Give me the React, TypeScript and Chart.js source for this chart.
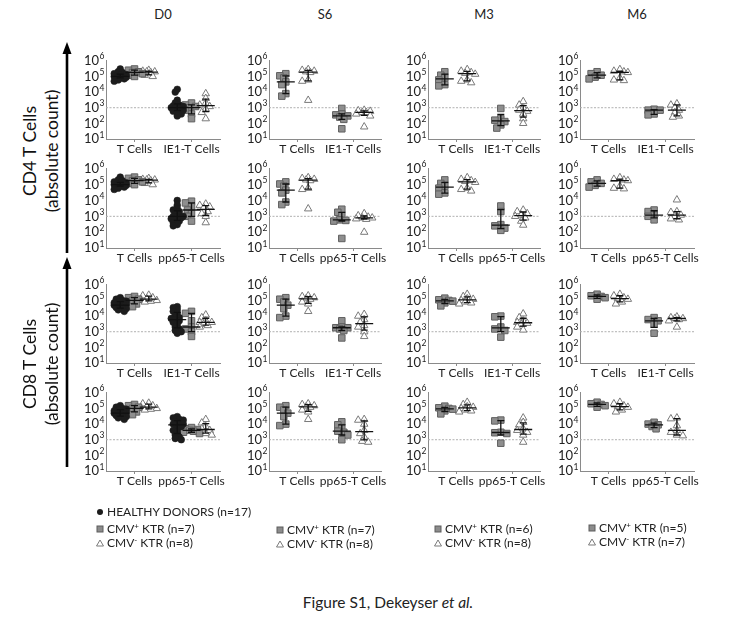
import React, { useEffect, useRef } from 'react';
import { Chart, registerables } from 'chart.js';
Chart.register(...registerables);

const FONT = 'Lato, "Open Sans", sans-serif';

// ---------- labels ----------
const timepoints = ['D0', 'S6', 'M3', 'M6'];
const rowCategories = [
  ['T Cells', 'IE1-T Cells'],
  ['T Cells', 'pp65-T Cells'],
  ['T Cells', 'IE1-T Cells'],
  ['T Cells', 'pp65-T Cells'],
];
const yTickValues = [1e1, 1e2, 1e3, 1e4, 1e5, 1e6];
const yTickBase = '10';
const yTickExponents = ['1', '2', '3', '4', '5', '6'];
const threshold = 1e3;
const nPos = [7, 7, 6, 5];
const nNeg = [8, 8, 8, 7];
const nHealthy = 17;

// ---------- healthy donors (D0 only) ----------
const hdCD4T = [3e5, 2e5, 1.8e5, 1.5e5, 1.3e5, 1.2e5, 1.1e5, 1e5, 1e5, 1e5, 9e4, 9e4, 8e4, 8e4, 7e4, 6e4, 5e4];
const hdCD4IE1 = [1.5e4, 1e4, 3e3, 2e3, 1.5e3, 1.3e3, 1.2e3, 1e3, 1e3, 1e3, 9e2, 8e2, 7e2, 6e2, 5e2, 4e2, 3e2];
const hdCD4pp65 = [1e4, 5e3, 3e3, 2.5e3, 2e3, 1.5e3, 1.2e3, 1e3, 1e3, 9e2, 8e2, 7e2, 6e2, 5e2, 4e2, 3e2, 2.5e2];
const hdCD8T = [1.5e5, 1.2e5, 1e5, 9e4, 8e4, 7e4, 6e4, 5.5e4, 5e4, 5e4, 4.5e4, 4e4, 3.5e4, 3e4, 3e4, 2.5e4, 2e4];
const hdCD8IE1 = [4e4, 3.5e4, 2.5e4, 2e4, 1.5e4, 1e4, 8e3, 7e3, 6e3, 5e3, 4e3, 3e3, 2e3, 1.5e3, 1.2e3, 1e3, 8e2];
const hdCD8pp65 = [3e4, 2.5e4, 2e4, 1.8e4, 1.5e4, 1.2e4, 1e4, 1e4, 9e3, 7e3, 5e3, 4e3, 3e3, 2e3, 1.5e3, 1.2e3, 1e3];

// ---------- D0 ----------
const d0PosCD4T = [3e5, 2.5e5, 2e5, 1.8e5, 1.5e5, 1.2e5, 1e5];
const d0NegCD4T = [2.5e5, 2.2e5, 2e5, 2e5, 1.8e5, 1.5e5, 1.2e5, 1e5];
const d0PosCD4IE1 = [2e3, 1.5e3, 1.2e3, 1e3, 7e2, 4e2, 2e2];
const d0NegCD4IE1 = [8e3, 4e3, 2e3, 1.5e3, 1.2e3, 8e2, 5e2, 2e2];
const d0PosCD4pp65 = [9e3, 7e3, 4e3, 2.5e3, 1.5e3, 1e3, 5e2];
const d0NegCD4pp65 = [6e3, 5e3, 4e3, 3.5e3, 2e3, 1.5e3, 1e3, 4e2];
const d0PosCD8T = [1.8e5, 1.5e5, 1.2e5, 1e5, 8e4, 6e4, 4e4];
const d0NegCD8T = [2.2e5, 2e5, 1.5e5, 1.3e5, 1.1e5, 1e5, 9e4, 8e4];
const d0PosCD8IE1 = [2e4, 1.5e4, 5e3, 2e3, 1.5e3, 1e3, 5e2];
const d0NegCD8IE1 = [1.2e4, 8e3, 5e3, 4e3, 4e3, 3e3, 2.5e3, 2e3];
const d0PosCD8pp65 = [6e3, 5e3, 4.5e3, 4e3, 3.5e3, 3e3, 2.5e3];
const d0NegCD8pp65 = [2e4, 1.2e4, 7e3, 5e3, 4e3, 3e3, 2.5e3, 2e3];

// ---------- S6 ----------
const s6PosCD4T = [1.5e5, 1.1e5, 8e4, 4.5e4, 3e4, 8e3, 5.5e3];
const s6NegCD4T = [2.8e5, 2.5e5, 2.2e5, 2e5, 1.8e5, 6e4, 5e4, 3e3];
const s6PosCD4IE1 = [9e2, 4e2, 3.5e2, 3e2, 2.5e2, 1.8e2, 4.5e1];
const s6NegCD4IE1 = [7e2, 6.5e2, 6e2, 5e2, 5e2, 4e2, 3e2, 6e1];
const s6PosCD4pp65 = [2.8e3, 1.8e3, 1.1e3, 6e2, 5.5e2, 5e2, 4e1];
const s6NegCD4pp65 = [1.5e3, 1.1e3, 9e2, 8e2, 8e2, 7e2, 6.5e2, 1e2];
const s6PosCD8T = [1.5e5, 1.2e5, 8e4, 5e4, 3e4, 1e4, 8e3];
const s6NegCD8T = [2e5, 1.8e5, 1.5e5, 1.3e5, 1.2e5, 8e4, 6e4, 2e4];
const s6PosCD8IE1 = [5e3, 2e3, 1.8e3, 1.8e3, 1.5e3, 1.2e3, 4e2];
const s6NegCD8IE1 = [1.3e4, 1e4, 6e3, 4e3, 2.5e3, 2e3, 1e3, 5e2];
const s6PosCD8pp65 = [1.4e4, 9e3, 6e3, 3.5e3, 3e3, 2e3, 1e3];
const s6NegCD8pp65 = [2e4, 1.8e4, 1e4, 4e3, 2.5e3, 1.5e3, 8e2, 7e2];

// ---------- M3 ----------
const m3PosCD4T = [2e5, 1.2e5, 8e4, 6e4, 3e4, 2.5e4];
const m3NegCD4T = [2.8e5, 2.2e5, 1.8e5, 1.6e5, 1.4e5, 6e4, 5e4, 4e4];
const m3PosCD4IE1 = [9e2, 2e2, 1.6e2, 1.3e2, 8e1, 5e1];
const m3NegCD4IE1 = [2.5e3, 1.5e3, 1e3, 7e2, 6e2, 4e2, 2e2, 1e2];
const m3PosCD4pp65 = [4.5e3, 2e3, 3e2, 2.5e2, 1.8e2, 1.3e2];
const m3NegCD4pp65 = [2.5e3, 2e3, 1.5e3, 1.2e3, 1e3, 8e2, 5e2, 2.8e2];
const m3PosCD8T = [1.4e5, 1.1e5, 1e5, 9e4, 7e4, 4.5e4];
const m3NegCD8T = [2.5e5, 1.8e5, 1.3e5, 1.2e5, 1e5, 8e4, 7e4, 6e4];
const m3PosCD8IE1 = [1e4, 9e3, 2e3, 1.5e3, 1.2e3, 4.5e2];
const m3NegCD8IE1 = [1.4e4, 8e3, 5e3, 4e3, 3.5e3, 3e3, 2e3, 1.3e3];
const m3PosCD8pp65 = [1.8e4, 1.6e4, 3e3, 2.8e3, 2.5e3, 6e2];
const m3NegCD8pp65 = [2.5e4, 1.3e4, 9e3, 5e3, 4e3, 3e3, 2e3, 7e2];

// ---------- M6 ----------
const m6PosCD4T = [2e5, 1.5e5, 1.2e5, 9e4, 7e4];
const m6NegCD4T = [2.8e5, 2.2e5, 2e5, 1.8e5, 8e4, 6e4, 5.5e4];
const m6PosCD4IE1 = [8e2, 7e2, 7e2, 4e2, 3.5e2];
const m6NegCD4IE1 = [1.8e3, 1.5e3, 1e3, 7e2, 5e2, 3e2, 2.5e2];
const m6PosCD4pp65 = [2.5e3, 2e3, 1.2e3, 1e3, 6e2];
const m6NegCD4pp65 = [1.1e4, 2e3, 1.8e3, 1.2e3, 1e3, 7e2, 6e2];
const m6PosCD8T = [2.5e5, 2e5, 1.8e5, 1.5e5, 1.2e5];
const m6NegCD8T = [2.5e5, 2e5, 1.5e5, 1.3e5, 1.2e5, 8e4, 6e4];
const m6PosCD8IE1 = [8e3, 6e3, 5e3, 3e3, 8e2];
const m6NegCD8IE1 = [9e3, 8e3, 7e3, 7e3, 6e3, 5e3, 2e3];
const m6PosCD8pp65 = [1.3e4, 1e4, 9e3, 7e3, 5e3];
const m6NegCD8pp65 = [2.5e4, 2.2e4, 8e3, 4e3, 3e3, 2e3, 1.8e3];

// ---------- tables built from the arrays ----------
const posT = [
  [d0PosCD4T, s6PosCD4T, m3PosCD4T, m6PosCD4T],
  [d0PosCD8T, s6PosCD8T, m3PosCD8T, m6PosCD8T],
];
const negT = [
  [d0NegCD4T, s6NegCD4T, m3NegCD4T, m6NegCD4T],
  [d0NegCD8T, s6NegCD8T, m3NegCD8T, m6NegCD8T],
];
const posAg = [
  [d0PosCD4IE1, s6PosCD4IE1, m3PosCD4IE1, m6PosCD4IE1],
  [d0PosCD4pp65, s6PosCD4pp65, m3PosCD4pp65, m6PosCD4pp65],
  [d0PosCD8IE1, s6PosCD8IE1, m3PosCD8IE1, m6PosCD8IE1],
  [d0PosCD8pp65, s6PosCD8pp65, m3PosCD8pp65, m6PosCD8pp65],
];
const negAg = [
  [d0NegCD4IE1, s6NegCD4IE1, m3NegCD4IE1, m6NegCD4IE1],
  [d0NegCD4pp65, s6NegCD4pp65, m3NegCD4pp65, m6NegCD4pp65],
  [d0NegCD8IE1, s6NegCD8IE1, m3NegCD8IE1, m6NegCD8IE1],
  [d0NegCD8pp65, s6NegCD8pp65, m3NegCD8pp65, m6NegCD8pp65],
];
const hdT = [hdCD4T, hdCD4T, hdCD8T, hdCD8T];
const hdAg = [hdCD4IE1, hdCD4pp65, hdCD8IE1, hdCD8pp65];

// ---------- layout ----------
const colLeft = [106, 269, 428, 580];
const colRight = [220, 381, 540, 694];
const rowTop = [56, 164, 280, 388];
const rowBottom = [139, 248, 363, 471];

type Kind = 'hd' | 'pos' | 'neg';
type Group = { x: number; kind: Kind; values: number[] };

const styles: Record<Kind, any> = {
  hd: { pointStyle: 'circle', pointRadius: 3.4, backgroundColor: '#1c1c1c', borderColor: '#1c1c1c', borderWidth: 0.5 },
  pos: { pointStyle: 'rect', pointRadius: 4.6, backgroundColor: '#8e8e8e', borderColor: '#606060', borderWidth: 1 },
  neg: { pointStyle: 'triangle', pointRadius: 4.3, backgroundColor: '#ffffff', borderColor: '#7a7a7a', borderWidth: 1 },
};

function buildGroups(r: number, c: number): Group[] {
  const tIdx = r < 2 ? 0 : 1;
  if (c === 0) {
    return [
      { x: 0.5, kind: 'hd', values: hdT[r] },
      { x: 1.0, kind: 'pos', values: posT[tIdx][c] },
      { x: 1.5, kind: 'neg', values: negT[tIdx][c] },
      { x: 2.5, kind: 'hd', values: hdAg[r] },
      { x: 3.0, kind: 'pos', values: posAg[r][c] },
      { x: 3.5, kind: 'neg', values: negAg[r][c] },
    ];
  }
  return [
    { x: 0.6, kind: 'pos', values: posT[tIdx][c] },
    { x: 1.4, kind: 'neg', values: negT[tIdx][c] },
    { x: 2.6, kind: 'pos', values: posAg[r][c] },
    { x: 3.4, kind: 'neg', values: negAg[r][c] },
  ];
}

function quantile(vals: number[], p: number) {
  const s = [...vals].sort((a, b) => a - b);
  const n = s.length;
  let pos = (n + 1) * p;
  if (pos < 1) pos = 1;
  if (pos > n) pos = n;
  const lo = Math.floor(pos);
  const hi = Math.ceil(pos);
  const f = pos - lo;
  return s[lo - 1] + (s[hi - 1] - s[lo - 1]) * f;
}

// deterministic beeswarm spread (pixel-based) for marker placement
function swarmX(values: number[], center: number, pxPerUnit: number, pxPerDecade: number, kind: Kind) {
  const order = values.map((_, i) => i).sort((a, b) => values[b] - values[a]);
  const placed: { x: number; y: number }[] = [];
  const xs = new Array(values.length).fill(center);
  const step = 2, minD = kind === 'hd' ? 3.3 : 4.6, maxK = kind === 'hd' ? 6 : 8;
  for (const i of order) {
    const y = Math.log10(values[i]) * pxPerDecade;
    let best = 0, bestScore = -1;
    for (let k = 0; k <= maxK; k++) {
      const off = k === 0 ? 0 : (k % 2 ? -1 : 1) * Math.ceil(k / 2) * step;
      const d = placed.reduce((m, p) => Math.min(m, Math.hypot(p.x - off, p.y - y)), Infinity);
      if (d >= minD) { best = off; bestScore = Infinity; break; }
      if (d > bestScore) { bestScore = d; best = off; }
    }
    placed.push({ x: best, y });
    xs[i] = center + best / pxPerUnit;
  }
  return xs;
}

const EXP_ROOM = 7;

function decorPlugin(groups: Group[]) {
  return {
    id: 'decor',
    beforeDatasetsDraw(chart: any) {
      const { ctx, chartArea, scales } = chart;
      const py = scales.y.getPixelForValue(threshold);
      ctx.save();
      ctx.strokeStyle = '#b0b0b0';
      ctx.lineWidth = 1;
      ctx.setLineDash([2, 1.5]);
      ctx.beginPath();
      ctx.moveTo(chartArea.left, py);
      ctx.lineTo(chartArea.right, py);
      ctx.stroke();
      ctx.restore();
    },
    afterDatasetsDraw(chart: any) {
      const { ctx, scales } = chart;
      const { x, y } = scales;
      ctx.save();
      ctx.strokeStyle = '#111';
      ctx.lineWidth = 1.3;
      groups.forEach((g) => {
        const xc = x.getPixelForValue(g.x);
        const med = y.getPixelForValue(quantile(g.values, 0.5));
        const q1 = y.getPixelForValue(quantile(g.values, 0.25));
        const q3 = y.getPixelForValue(quantile(g.values, 0.75));
        ctx.beginPath();
        ctx.moveTo(xc - 9, med); ctx.lineTo(xc + 9, med);
        ctx.moveTo(xc, q1); ctx.lineTo(xc, q3);
        ctx.moveTo(xc - 3.5, q1); ctx.lineTo(xc + 3.5, q1);
        ctx.moveTo(xc - 3.5, q3); ctx.lineTo(xc + 3.5, q3);
        ctx.stroke();
      });
      ctx.restore();
    },
    afterDraw(chart: any) {
      // exponents of the "10" tick labels
      const { ctx, scales } = chart;
      const y = scales.y;
      ctx.save();
      ctx.fillStyle = '#222';
      ctx.font = `8.5px ${FONT}`;
      ctx.textAlign = 'left';
      ctx.textBaseline = 'alphabetic';
      yTickValues.forEach((v, i) => {
        const py = y.getPixelForValue(v);
        ctx.fillText(yTickExponents[i], y.right - EXP_ROOM + 0.5, py - 1.5);
      });
      ctx.restore();
    },
  };
}

const PAD_TOP = 10, PAD_RIGHT = 14, Y_W = 40, X_H = 24;

function Panel({ r, c }: { r: number; c: number }) {
  const ref = useRef<HTMLCanvasElement>(null);
  const L = colLeft[c], R = colRight[c], T = rowTop[r], B = rowBottom[r];
  const w = R - L + Y_W + PAD_RIGHT;
  const h = B - T + PAD_TOP + X_H;
  useEffect(() => {
    const groups = buildGroups(r, c);
    const pxPerUnit = (R - L) / 4;
    const pxPerDecade = (B - T) / 5;
    const cats = rowCategories[r];
    const datasets = groups.map((g) => {
      const xs = swarmX(g.values, g.x, pxPerUnit, pxPerDecade, g.kind);
      return {
        data: g.values.map((v, i) => ({ x: xs[i], y: v })),
        showLine: false,
        clip: false,
        ...styles[g.kind],
      };
    });
    const chart = new Chart(ref.current as HTMLCanvasElement, {
      type: 'scatter',
      data: { datasets },
      options: {
        animation: false,
        responsive: false,
        maintainAspectRatio: false,
        layout: { padding: { top: PAD_TOP, right: PAD_RIGHT, left: 0, bottom: 0 } },
        plugins: { legend: { display: false }, tooltip: { enabled: false } },
        scales: {
          x: {
            type: 'linear',
            min: 0,
            max: 4,
            afterBuildTicks: (s: any) => { s.ticks = [{ value: 1 }, { value: 3 }]; },
            afterFit: (s: any) => { s.height = X_H; },
            ticks: {
              autoSkip: false,
              maxRotation: 0,
              padding: 0,
              color: '#222',
              font: { family: FONT, size: 12 },
              callback: (_v: any, i: number) => cats[i],
            },
            grid: { display: true, drawOnChartArea: false, drawTicks: true, tickLength: 3, color: '#8a8a8a' },
            border: { color: '#8a8a8a', width: 1 },
          },
          y: {
            type: 'logarithmic',
            min: 10,
            max: 1e6,
            afterBuildTicks: (s: any) => { s.ticks = yTickValues.map((v) => ({ value: v, major: false })); },
            afterFit: (s: any) => { s.width = Y_W; },
            ticks: {
              autoSkip: false,
              padding: EXP_ROOM,
              color: '#222',
              font: { family: FONT, size: 13 },
              callback: () => yTickBase,
            },
            grid: { display: true, drawOnChartArea: false, drawTicks: false },
            border: { color: '#8a8a8a', width: 1 },
          },
        },
      } as any,
      plugins: [decorPlugin(groups)],
    } as any);
    return () => chart.destroy();
  }, []);
  return (
    <canvas
      ref={ref}
      width={w}
      height={h}
      style={{ position: 'absolute', left: L - Y_W, top: T - PAD_TOP, width: w, height: h }}
    />
  );
}

function Marker({ kind }: { kind: Kind }) {
  return (
    <svg width={8} height={8} style={{ display: 'block' }}>
      {kind === 'hd' && <circle cx={4} cy={4} r={3} fill="#1c1c1c" />}
      {kind === 'pos' && <rect x={1} y={1} width={6} height={6} fill="#8c8c8c" stroke="#5c5c5c" strokeWidth={1} />}
      {kind === 'neg' && <polygon points="4,1 7.5,7 0.5,7" fill="#fff" stroke="#7a7a7a" strokeWidth={1} />}
    </svg>
  );
}

const legendX = [100, 280, 438, 592];
const legendY = [[512, 529, 543], [530, 544], [529, 543], [528, 542]];

function LegendLine({ x, y, kind, children }: any) {
  return (
    <div
      style={{
        position: 'absolute', left: x - 4, top: y - 8, height: 16, display: 'flex', alignItems: 'center',
        gap: 3, fontSize: 12, lineHeight: '16px', color: '#222', whiteSpace: 'nowrap',
      }}
    >
      <Marker kind={kind} />
      <span>{children}</span>
    </div>
  );
}

const supStyle: React.CSSProperties = { fontSize: 8, position: 'relative', top: -4 };

function Arrow({ x, top, bottom }: { x: number; top: number; bottom: number }) {
  return (
    <svg style={{ position: 'absolute', left: x - 6, top: top, width: 12, height: bottom - top }} width={12} height={bottom - top}>
      <line x1={6} y1={11} x2={6} y2={bottom - top} stroke="#000" strokeWidth={2.6} />
      <polygon points={`6,0 10.5,12 1.5,12`} fill="#000" />
    </svg>
  );
}

function SideLabel({ cx, cy, text, size }: { cx: number; cy: number; text: string; size: number }) {
  return (
    <div
      style={{
        position: 'absolute', left: cx, top: cy, transform: 'translate(-50%, -50%) rotate(-90deg)',
        fontSize: size, whiteSpace: 'nowrap', color: '#111', lineHeight: 1,
      }}
    >
      {text}
    </div>
  );
}

export default function App() {
  const cells: JSX.Element[] = [];
  for (let r = 0; r < 4; r++) for (let c = 0; c < 4; c++) cells.push(<Panel key={`${r}-${c}`} r={r} c={c} />);
  return (
    <div style={{ position: 'absolute', left: 0, top: 0, width: 737, height: 627, background: '#fff', fontFamily: FONT, overflow: 'hidden' }}>
      {timepoints.map((t, c) => (
        <div key={t} style={{ position: 'absolute', left: (colLeft[c] + colRight[c]) / 2 - 30, width: 60, top: 6, textAlign: 'center', fontSize: 13, lineHeight: '16px', color: '#222' }}>
          {t}
        </div>
      ))}
      {cells}
      <SideLabel cx={30} cy={151} text="CD4 T Cells" size={17.5} />
      <SideLabel cx={52} cy={151} text="(absolute count)" size={17.5} />
      <SideLabel cx={30} cy={364} text="CD8 T Cells" size={17.5} />
      <SideLabel cx={52} cy={364} text="(absolute count)" size={17.5} />
      <Arrow x={67} top={42} bottom={253} />
      <Arrow x={67} top={257} bottom={467} />

      <LegendLine x={legendX[0]} y={legendY[0][0]} kind="hd">HEALTHY DONORS (n={nHealthy})</LegendLine>
      {timepoints.map((t, c) => {
        const ys = legendY[c];
        const off = c === 0 ? 1 : 0;
        return (
          <React.Fragment key={'lg' + t}>
            <LegendLine x={legendX[c]} y={ys[off]} kind="pos">
              CMV<span style={supStyle}>+</span> KTR (n={nPos[c]})
            </LegendLine>
            <LegendLine x={legendX[c]} y={ys[off + 1]} kind="neg">
              CMV<span style={supStyle}>-</span> KTR (n={nNeg[c]})
            </LegendLine>
          </React.Fragment>
        );
      })}

      <div style={{ position: 'absolute', left: 0, width: 776, top: 592, textAlign: 'center', fontSize: 15.5, lineHeight: '20px', color: '#222' }}>
        Figure S1, Dekeyser <i>et al.</i>
      </div>
    </div>
  );
}
